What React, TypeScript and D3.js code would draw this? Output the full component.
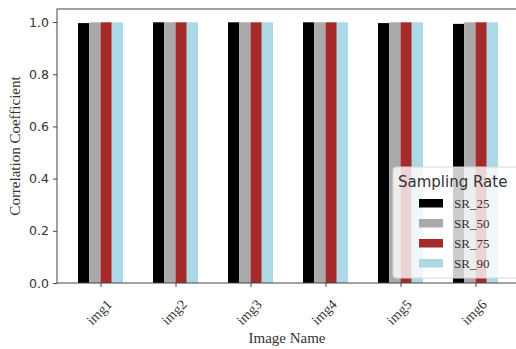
import React, { useEffect, useRef } from 'react';
import * as d3 from 'd3';

// Chart data
const images = ['img1', 'img2', 'img3', 'img4', 'img5', 'img6'];
const seriesNames = ['SR_25', 'SR_50', 'SR_75', 'SR_90'];
const sr25 = [0.996, 0.999, 0.999, 0.999, 0.996, 0.993];
const sr50 = [0.999, 0.999, 0.999, 0.999, 0.999, 0.999];
const sr75 = [0.999, 0.999, 0.999, 0.999, 0.999, 0.999];
const sr90 = [0.999, 0.999, 0.999, 0.999, 0.999, 0.999];
const yTicks = [0, 0.2, 0.4, 0.6, 0.8, 1.0];

const colors = ['#000000', '#a9a9a9', '#a52a2a', '#add8e6'];

const App = () => {
  const ref = useRef<SVGSVGElement>(null);

  useEffect(() => {
    const svg = d3.select(ref.current);
    svg.selectAll('*').remove();

    const W = 516, H = 349;
    const left = 57, right = 519, top = 9, bottom = 283;
    const serif = '"Liberation Serif", "DejaVu Serif", serif';
    const sans = '"DejaVu Sans", sans-serif';
    const axisColor = '#444';

    const x = d3.scaleLinear().domain([-0.58, 5.58]).range([left, right]);
    const y = d3.scaleLinear().domain([0, 1.05]).range([bottom, top]);
    const barW = 0.15;

    svg.append('rect').attr('width', W).attr('height', H).attr('fill', '#fff');

    const allSeries = [sr25, sr50, sr75, sr90];

    // Bars
    allSeries.forEach((vals, si) => {
      svg.append('g')
        .selectAll('rect')
        .data(vals)
        .enter()
        .append('rect')
        .attr('x', (d, i) => x(i + (si - 1.5) * barW - barW / 2))
        .attr('width', x(barW) - x(0))
        .attr('y', d => y(d))
        .attr('height', d => y(0) - y(d))
        .attr('fill', colors[si]);
    });

    // Frame
    svg.append('rect')
      .attr('x', left).attr('y', top)
      .attr('width', right - left).attr('height', bottom - top)
      .attr('fill', 'none')
      .attr('stroke', axisColor)
      .attr('stroke-width', 1);

    // Y axis
    const yAxis = svg.append('g')
      .attr('transform', `translate(${left},0)`)
      .call(d3.axisLeft(y).tickValues(yTicks).tickFormat(d3.format('.1f')).tickSize(4).tickPadding(4));
    yAxis.select('.domain').remove();
    yAxis.selectAll('line').attr('stroke', axisColor);
    yAxis.selectAll('text')
      .attr('font-family', sans)
      .attr('font-size', 12.5)
      .attr('fill', '#333');

    // X axis, labels rotated 45deg about their centre
    const xAxis = svg.append('g')
      .attr('transform', `translate(0,${bottom})`)
      .call(d3.axisBottom(x).tickValues(d3.range(images.length)).tickFormat((d) => images[d as number]).tickSize(4));
    xAxis.select('.domain').remove();
    xAxis.selectAll('line').attr('stroke', axisColor);
    xAxis.selectAll('text')
      .attr('font-family', serif)
      .attr('font-size', 14)
      .attr('fill', '#333')
      .attr('text-anchor', 'middle')
      .attr('y', 0)
      .attr('dy', '0.35em')
      .attr('transform', 'translate(-2,29) rotate(-45)');

    // Axis labels
    svg.append('text')
      .attr('x', 287)
      .attr('y', 343)
      .attr('text-anchor', 'middle')
      .attr('font-family', serif)
      .attr('font-size', 15)
      .attr('fill', '#333')
      .text('Image Name');

    svg.append('text')
      .attr('transform', `translate(20,${(top + bottom) / 2}) rotate(-90)`)
      .attr('text-anchor', 'middle')
      .attr('font-family', serif)
      .attr('font-size', 15)
      .attr('fill', '#333')
      .text('Correlation Coefficient');

    // Legend
    const lg = svg.append('g').attr('transform', 'translate(393,167)');
    lg.append('rect')
      .attr('width', 140).attr('height', 111)
      .attr('rx', 3)
      .attr('fill', '#fff').attr('fill-opacity', 0.8)
      .attr('stroke', '#d6d6d6');
    lg.append('text')
      .attr('x', 5).attr('y', 20)
      .attr('font-family', sans)
      .attr('font-size', 15)
      .attr('fill', '#333')
      .text('Sampling Rate');
    seriesNames.forEach((name, i) => {
      const cy = 36 + i * 20;
      lg.append('rect')
        .attr('x', 26).attr('y', cy - 4)
        .attr('width', 24).attr('height', 8.5)
        .attr('fill', colors[i]);
      lg.append('text')
        .attr('x', 61).attr('y', cy)
        .attr('dy', '0.35em')
        .attr('font-family', serif)
        .attr('font-size', 13)
        .attr('fill', '#333')
        .text(name);
    });
  }, []);

  return (
    <svg
      ref={ref}
      width={516}
      height={349}
      style={{ position: 'absolute', left: 0, top: 0 }}
    />
  );
};

export default App;
